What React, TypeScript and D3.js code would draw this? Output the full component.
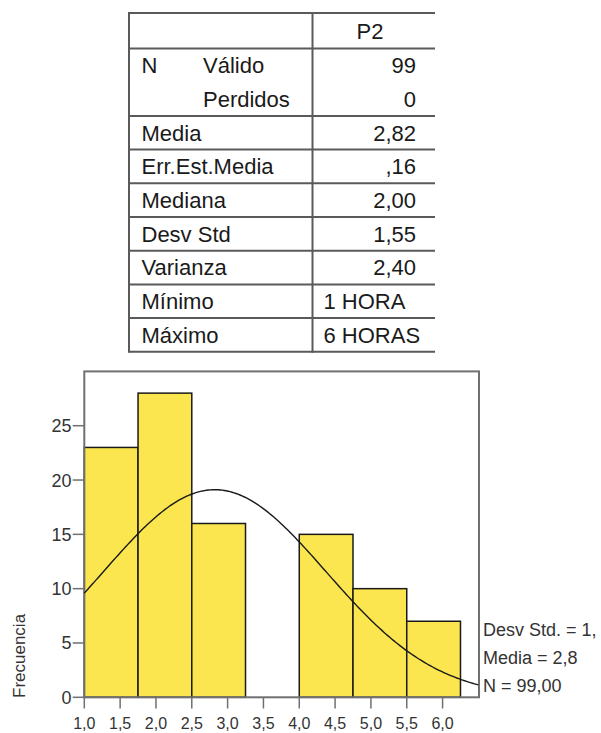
import React, { useEffect, useRef } from "react";
import * as d3 from "d3";

// ---- Table data ----
const tableHeader = "P2";
const nGroupLabel = "N";
const nLabels = ["Válido", "Perdidos"];
const nValues = ["99", "0"];
const statLabels = ["Media", "Err.Est.Media", "Mediana", "Desv Std", "Varianza", "Mínimo", "Máximo"];
const statValues = ["2,82", ",16", "2,00", "1,55", "2,40", "1 HORA", "6 HORAS"];
const statAlignLeft = [false, false, false, false, false, true, true];

// ---- Histogram data ----
const binStarts = [1.0, 1.75, 2.5, 3.25, 4.0, 4.75, 5.5];
const binWidth = 0.75;
const frequencies = [23, 28, 16, 0, 15, 10, 7];
const xTicks = [1.0, 1.5, 2.0, 2.5, 3.0, 3.5, 4.0, 4.5, 5.0, 5.5, 6.0];
const yTicks = [0, 5, 10, 15, 20, 25];
const xDomain = [1.0, 6.5];
const yDomain = [0, 30];
const curveMean = 2.82;
const curveSd = 1.55;
const curveN = 99;
const yAxisTitle = "Frecuencia";
const legendLines = ["Desv Std. = 1,", "Media = 2,8", "N = 99,00"];

export default function App() {
  const ref = useRef<SVGSVGElement | null>(null);

  useEffect(() => {
    const svg = d3.select(ref.current);
    svg.selectAll("*").remove();
    const font = "'Liberation Sans', Arial, sans-serif";
    const textColor = "#1a1a1a";
    const lineColor = "#5a5a5a";

    // ---------------- Table ----------------
    const t = svg.append("g");
    const tLeft = 129, tDiv = 312.5, tRight = 435;
    const tTop = 13, headerBottom = 48.5, rowH = 33.7;
    const nRowsTop = headerBottom;
    const nRowsBottom = headerBottom + 2 * rowH;
    const statTop = nRowsBottom;
    const tBottom = statTop + statLabels.length * rowH;
    const fs = 22;

    const hLines = [tTop, headerBottom, nRowsBottom];
    statLabels.forEach((_, i) => hLines.push(statTop + (i + 1) * rowH));
    t.selectAll("line.h")
      .data(hLines)
      .join("line")
      .attr("x1", tLeft)
      .attr("x2", tRight)
      .attr("y1", (d) => d)
      .attr("y2", (d) => d)
      .attr("stroke", lineColor)
      .attr("stroke-width", 2);
    t.append("line").attr("x1", tLeft).attr("x2", tLeft).attr("y1", tTop - 1).attr("y2", tBottom + 1)
      .attr("stroke", lineColor).attr("stroke-width", 2);
    t.append("line").attr("x1", tDiv).attr("x2", tDiv).attr("y1", tTop - 1).attr("y2", tBottom + 1)
      .attr("stroke", lineColor).attr("stroke-width", 2);

    const txt = (x: number, y: number, s: string, anchor = "start") =>
      t.append("text").attr("x", x).attr("y", y).attr("text-anchor", anchor)
        .attr("font-family", font).attr("font-size", fs).attr("fill", textColor).text(s);

    txt(370, (tTop + headerBottom) / 2 + 7.8, tableHeader, "middle");
    txt(141.5, nRowsTop + rowH / 2 + 7.8, nGroupLabel);
    nLabels.forEach((l, i) => {
      const y = nRowsTop + i * rowH + rowH / 2 + 7.8;
      txt(203, y, l);
      txt(416, y, nValues[i], "end");
    });
    statLabels.forEach((l, i) => {
      const y = statTop + i * rowH + rowH / 2 + 7.8;
      txt(141.5, y, l);
      if (statAlignLeft[i]) txt(323.5, y, statValues[i]);
      else txt(416, y, statValues[i], "end");
    });

    // ---------------- Histogram ----------------
    const left = 84.3, right = 478.4, top = 371.4, bottom = 697.3;
    const x = d3.scaleLinear().domain(xDomain).range([left, right]);
    const y = d3.scaleLinear().domain(yDomain).range([bottom, top]);
    const g = svg.append("g");
    const axisColor = "#707070";

    // bars
    const bins = binStarts.map((s, i) => ({ x0: s, x1: s + binWidth, v: frequencies[i] }));
    g.selectAll("rect.bar")
      .data(bins.filter((b) => b.v > 0))
      .join("rect")
      .attr("x", (d) => x(d.x0))
      .attr("width", (d) => x(d.x1) - x(d.x0))
      .attr("y", (d) => y(d.v))
      .attr("height", (d) => y(0) - y(d.v))
      .attr("fill", "#fbe64f")
      .attr("stroke", "#1a1a1a")
      .attr("stroke-width", 1.5);

    // frame
    g.append("rect")
      .attr("x", left)
      .attr("y", top)
      .attr("width", 479 - left)
      .attr("height", bottom - top)
      .attr("fill", "none")
      .attr("stroke", axisColor)
      .attr("stroke-width", 2);

    // normal curve
    const dens = (v: number) =>
      (curveN * binWidth) / (curveSd * Math.sqrt(2 * Math.PI)) *
      Math.exp(-0.5 * ((v - curveMean) / curveSd) ** 2);
    const pts = d3.range(0, 201).map((i) => xDomain[0] + (i / 200) * (xDomain[1] - xDomain[0]));
    g.append("path")
      .attr("d", d3.line<number>().x((d) => x(d)).y((d) => y(dens(d)))(pts) || "")
      .attr("fill", "none")
      .attr("stroke", "#1a1a1a")
      .attr("stroke-width", 1.4);

    // y ticks
    g.selectAll("line.yt")
      .data(yTicks)
      .join("line")
      .attr("x1", 72.7)
      .attr("x2", left)
      .attr("y1", (d) => y(d))
      .attr("y2", (d) => y(d))
      .attr("stroke", axisColor)
      .attr("stroke-width", 1.5);
    g.selectAll("text.yl")
      .data(yTicks)
      .join("text")
      .attr("x", 71.5)
      .attr("y", (d) => y(d) + 6.5)
      .attr("text-anchor", "end")
      .attr("font-family", font)
      .attr("font-size", 18)
      .attr("fill", "#333")
      .text((d) => String(d));

    // x ticks
    g.selectAll("line.xt")
      .data(xTicks)
      .join("line")
      .attr("x1", (d) => x(d))
      .attr("x2", (d) => x(d))
      .attr("y1", bottom)
      .attr("y2", 708.5)
      .attr("stroke", axisColor)
      .attr("stroke-width", 1.5);
    g.selectAll("text.xl")
      .data(xTicks)
      .join("text")
      .attr("x", (d) => x(d))
      .attr("y", 728.5)
      .attr("text-anchor", "middle")
      .attr("font-family", font)
      .attr("font-size", 16)
      .attr("fill", "#333")
      .text((d) => d.toFixed(1).replace(".", ","));

    // y axis title
    g.append("text")
      .attr("transform", "translate(24.5,698) rotate(-90)")
      .attr("font-family", font)
      .attr("font-size", 17)
      .attr("fill", "#333")
      .text(yAxisTitle);

    // legend
    const legendY = [636, 664, 691.7];
    legendLines.forEach((l, i) => {
      g.append("text")
        .attr("x", 483)
        .attr("y", legendY[i])
        .attr("font-family", font)
        .attr("font-size", 18)
        .attr("fill", "#333")
        .text(l);
    });
  }, []);

  return (
    <svg
      ref={ref}
      width={601}
      height={733}
      style={{ position: "absolute", left: 0, top: 0, background: "#fff" }}
    />
  );
}
